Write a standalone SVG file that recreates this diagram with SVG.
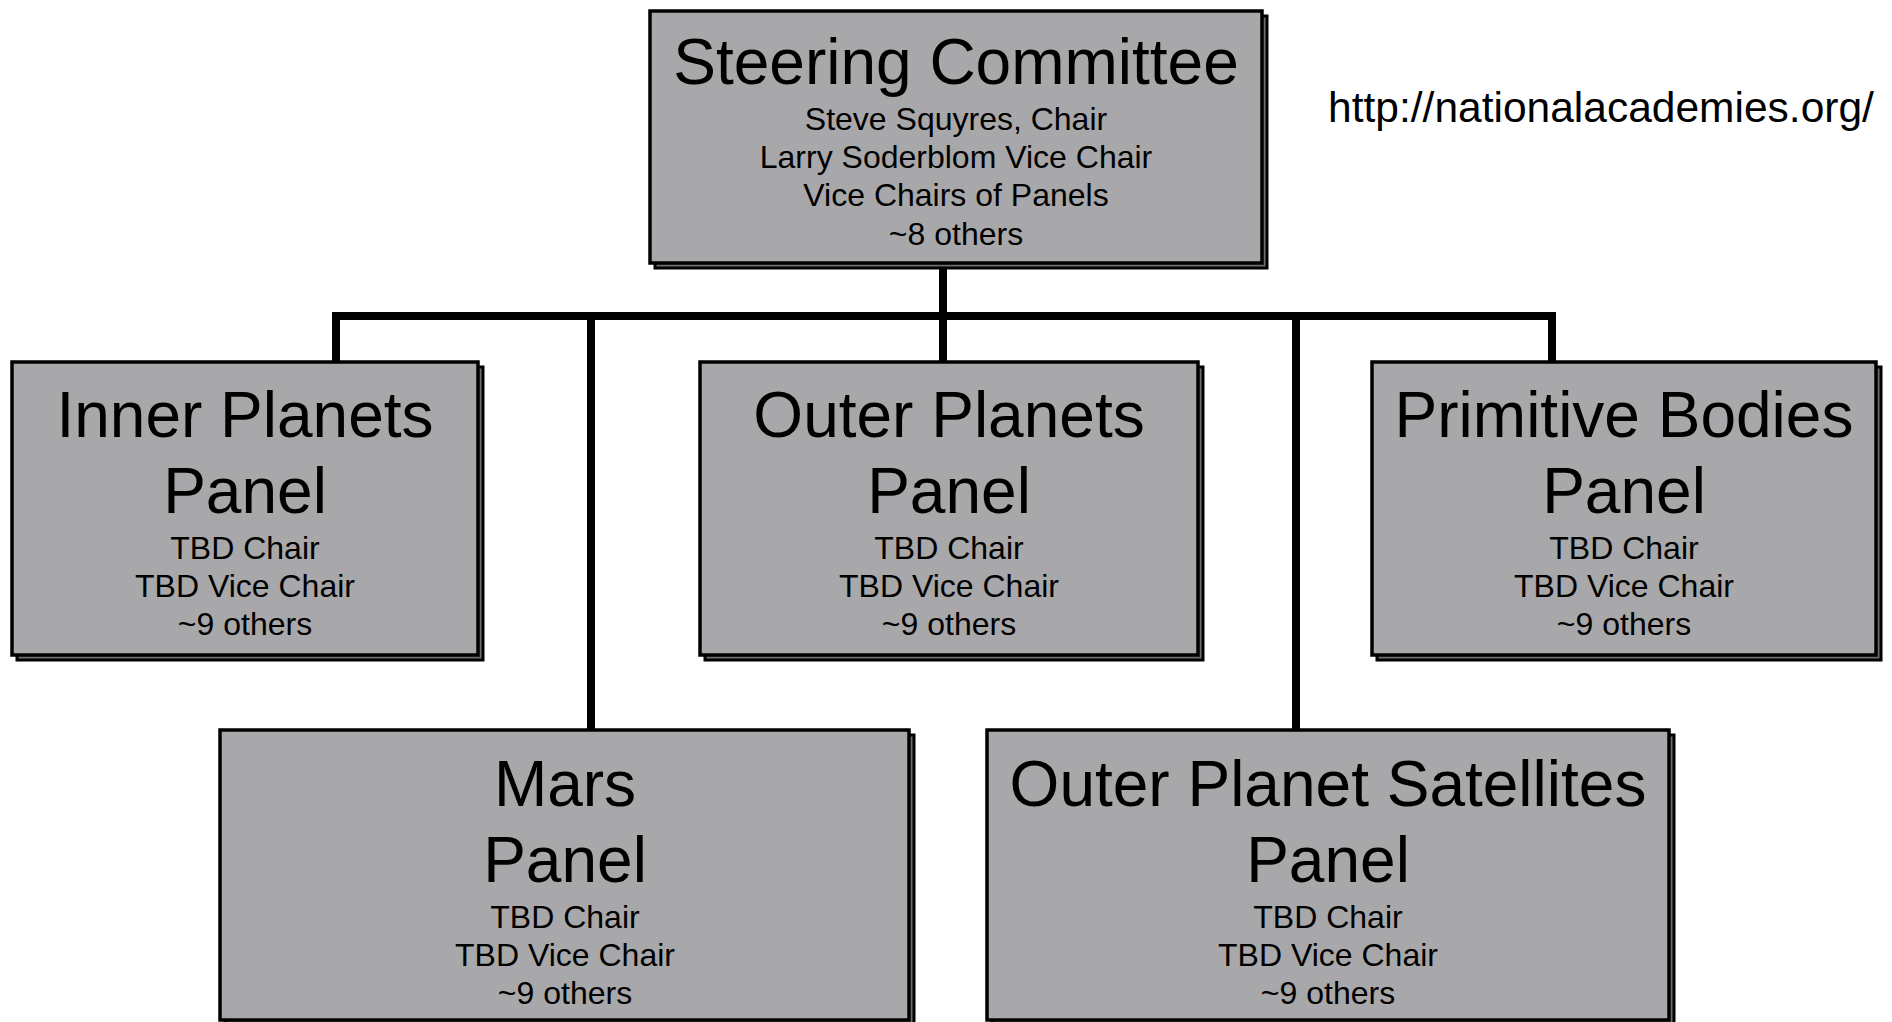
<svg xmlns="http://www.w3.org/2000/svg" width="1892" height="1022" viewBox="0 0 1892 1022">
<style>
.box{fill:#a8a8aa;stroke:#000;stroke-width:3.5}
.sh{fill:#6e6e70;stroke:#000;stroke-width:3}
.t{font-family:"Liberation Sans",Arial,sans-serif;fill:#000;text-anchor:middle}
.big{font-size:64px}
.sm{font-size:32px}
.con{stroke:#000;stroke-width:8;fill:none;stroke-linecap:square}
</style>
<rect width="1892" height="1022" fill="#fff"/>
<g id="connectors">
<path class="con" d="M943 266V316M336 316H1552M336 316V360M943 316V360M1552 316V360M591 316V728M1296 316V728"/>
</g>
<g id="steering">
<rect class="sh" x="655" y="16" width="612" height="252"/>
<rect class="box" x="650" y="11" width="612" height="252"/>
<text class="t big" x="956" y="84">Steering Committee</text>
<text class="t sm" x="956" y="130">Steve Squyres, Chair</text>
<text class="t sm" x="956" y="168">Larry Soderblom Vice Chair</text>
<text class="t sm" x="956" y="206">Vice Chairs of Panels</text>
<text class="t sm" x="956" y="245">~8 others</text>
</g>
<g id="inner">
<rect class="sh" x="17" y="367" width="466" height="293"/>
<rect class="box" x="12" y="362" width="466" height="293"/>
<text class="t big" x="245" y="437">Inner Planets</text>
<text class="t big" x="245" y="513">Panel</text>
<text class="t sm" x="245" y="559">TBD Chair</text>
<text class="t sm" x="245" y="597">TBD Vice Chair</text>
<text class="t sm" x="245" y="635">~9 others</text>
</g>
<g id="outer">
<rect class="sh" x="705" y="367" width="498" height="293"/>
<rect class="box" x="700" y="362" width="498" height="293"/>
<text class="t big" x="949" y="437">Outer Planets</text>
<text class="t big" x="949" y="513">Panel</text>
<text class="t sm" x="949" y="559">TBD Chair</text>
<text class="t sm" x="949" y="597">TBD Vice Chair</text>
<text class="t sm" x="949" y="635">~9 others</text>
</g>
<g id="primitive">
<rect class="sh" x="1377" y="367" width="504" height="293"/>
<rect class="box" x="1372" y="362" width="504" height="293"/>
<text class="t big" x="1624" y="437">Primitive Bodies</text>
<text class="t big" x="1624" y="513">Panel</text>
<text class="t sm" x="1624" y="559">TBD Chair</text>
<text class="t sm" x="1624" y="597">TBD Vice Chair</text>
<text class="t sm" x="1624" y="635">~9 others</text>
</g>
<g id="mars">
<rect class="sh" x="225" y="735" width="689" height="300"/>
<rect class="box" x="220" y="730" width="689" height="290"/>
<text class="t big" x="565" y="806">Mars</text>
<text class="t big" x="565" y="882">Panel</text>
<text class="t sm" x="565" y="928">TBD Chair</text>
<text class="t sm" x="565" y="966">TBD Vice Chair</text>
<text class="t sm" x="565" y="1004">~9 others</text>
</g>
<g id="satellites">
<rect class="sh" x="992" y="735" width="682" height="300"/>
<rect class="box" x="987" y="730" width="682" height="290"/>
<text class="t big" x="1328" y="806">Outer Planet Satellites</text>
<text class="t big" x="1328" y="882">Panel</text>
<text class="t sm" x="1328" y="928">TBD Chair</text>
<text class="t sm" x="1328" y="966">TBD Vice Chair</text>
<text class="t sm" x="1328" y="1004">~9 others</text>
</g>
<text class="t" x="1601" y="122" style="font-size:42.5px">http://nationalacademies.org/</text>
</svg>
